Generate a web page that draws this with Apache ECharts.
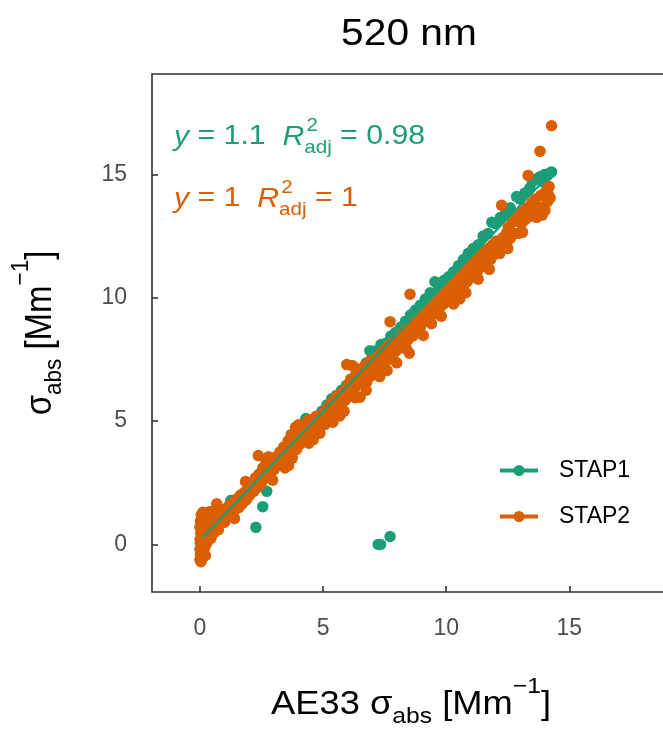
<!DOCTYPE html>
<html><head><meta charset="utf-8">
<script src="https://cdn.jsdelivr.net/npm/echarts@6/dist/echarts.min.js"></script>
<style>html,body{margin:0;padding:0;background:#fff}#c{width:663px;height:731px}</style>
</head><body><div id="c"></div>
<script>
// ---- data ----
const xTicks = [0, 5, 10, 15];
const yTicks = [0, 5, 10, 15];
const seriesNames = ['STAP1', 'STAP2'];
const stap1 = [[0.02,0.05],[0.08,0.25],[0.15,0.45],[0.05,-0.15],[0.25,0.35],[0.40,0.55],[0.55,0.75],[0.75,0.95],[0.95,1.15],[1.15,1.45],[1.25,1.78],[1.45,1.70],[1.65,1.95],[1.85,2.10],[2.05,2.35],[2.27,0.69],[2.55,1.53],[2.71,2.15],[2.25,2.55],[2.45,2.70],[2.65,2.90],[2.85,3.10],[3.05,3.35],[3.25,3.55],[3.45,3.75],[3.65,3.95],[3.85,4.20],[4.05,4.40],[4.25,4.65],[4.30,5.10],[4.55,5.05],[4.75,5.15],[4.95,5.40],[5.15,5.65],[5.35,5.90],[5.55,6.05],[5.75,6.25],[5.95,6.45],[6.15,6.70],[6.35,6.95],[6.55,7.10],[6.75,7.35],[6.90,7.85],[7.00,7.60],[7.24,0.00],[7.33,0.00],[7.72,0.32],[7.15,7.85],[7.35,8.10],[7.55,8.15],[7.75,8.45],[7.95,8.60],[8.15,8.80],[8.35,9.05],[8.55,9.30],[8.75,9.50],[8.95,9.70],[9.15,9.95],[9.35,10.20],[9.54,10.65],[9.70,10.40],[9.90,10.70],[10.10,10.85],[10.30,11.05],[10.50,11.30],[10.70,11.55],[10.90,11.80],[11.10,12.00],[11.30,12.15],[11.50,12.50],[11.70,12.60],[11.85,13.06],[12.00,13.00],[12.20,13.25],[12.40,13.40],[12.60,13.65],[12.86,14.10],[13.00,14.00],[13.20,14.25],[13.40,14.45],[13.50,14.70],[13.65,14.80],[13.80,14.90],[13.90,14.70],[14.00,15.00],[14.10,14.95],[14.20,15.05],[14.28,15.10]];
const stap2 = [[0.00,-0.62],[0.04,-0.70],[0.10,-0.55],[0.02,-0.40],[0.00,-0.20],[0.06,0.00],[0.00,0.20],[0.03,0.45],[0.00,0.70],[0.02,0.95],[0.05,1.20],[0.12,1.30],[0.08,0.85],[0.15,0.55],[0.12,0.15],[0.18,-0.15],[0.22,-0.45],[0.28,0.05],[0.25,0.40],[0.32,0.80],[0.30,1.15],[0.38,1.32],[0.42,0.60],[0.45,0.25],[0.50,0.95],[0.55,1.25],[0.58,0.50],[0.65,0.80],[0.70,1.10],[0.62,1.40],[0.75,0.60],[0.80,1.30],[0.85,0.95],[0.68,1.65],[0.92,1.20],
[1.00,0.90],[1.05,1.45],[1.15,1.10],[1.20,1.60],[1.28,1.25],[1.35,1.70],[1.42,1.40],[1.50,1.85],[1.58,1.50],[1.65,2.00],[1.72,1.65],[1.80,2.10],[1.88,1.80],[1.95,2.35],[1.85,2.55],[1.40,1.05],
[2.02,2.00],[2.10,2.50],[2.18,2.15],[2.25,2.70],[2.32,2.30],[2.37,3.60],[2.40,2.85],[2.48,2.45],[2.55,3.10],[2.60,2.65],[2.68,3.30],[2.72,2.80],[2.80,3.15],[2.88,2.90],[2.95,3.40],[2.78,3.55],[2.95,2.60],
[3.02,3.05],[3.10,3.55],[3.18,3.20],[3.25,3.75],[3.32,3.35],[3.40,3.95],[3.45,3.10],[3.52,3.60],[3.58,4.20],[3.65,3.75],[3.70,4.45],[3.75,3.50],[3.82,4.10],[3.88,4.75],[3.92,3.85],[3.98,4.40],[3.60,3.20],[4.00,4.85],
[4.05,4.05],[4.12,4.65],[4.20,4.30],[4.28,4.85],[4.35,4.50],[4.42,4.10],[4.50,4.75],[4.58,5.05],[4.65,4.55],[4.72,5.20],[4.80,4.85],[4.87,4.51],[4.95,5.10],[4.60,4.25],[4.40,5.05],
[5.02,5.35],[5.08,4.86],[5.15,5.50],[5.22,5.15],[5.30,5.70],[5.38,5.30],[5.45,5.85],[5.52,5.45],[5.60,6.05],[5.68,5.21],[5.75,5.70],[5.82,6.20],[5.90,5.85],[5.96,7.29],[6.00,6.45],[5.40,4.95],[5.85,5.40],
[6.05,6.00],[6.12,6.70],[6.18,7.25],[6.25,7.20],[6.30,6.35],[6.38,6.90],[6.45,6.55],[6.50,5.97],[6.55,7.10],[6.62,6.75],[6.70,7.25],[6.78,6.60],[6.85,7.00],[6.92,7.45],[6.98,6.85],[6.30,5.95],[6.75,6.25],
[7.05,7.30],[7.12,7.00],[7.20,7.60],[7.28,7.15],[7.35,7.75],[7.42,7.35],[7.50,7.90],[7.58,7.45],[7.65,8.05],[7.72,9.03],[7.78,7.60],[7.85,8.20],[7.92,7.80],[7.99,7.36],[7.30,6.80],[7.60,7.05],
[8.05,8.35],[8.12,7.95],[8.20,8.55],[8.28,8.10],[8.35,8.70],[8.39,7.92],[8.45,8.30],[8.53,10.14],[8.58,8.85],[8.65,8.45],[8.72,9.05],[8.80,8.60],[8.88,9.20],[8.95,8.80],[8.50,7.75],
[9.02,9.35],[9.07,8.47],[9.15,9.05],[9.22,9.50],[9.30,9.15],[9.38,9.70],[9.45,9.30],[9.52,9.85],[9.60,9.45],[9.68,10.00],[9.75,9.60],[9.82,10.15],[9.90,9.75],[9.97,10.30],[9.40,8.95],[9.80,9.25],
[10.05,9.90],[10.12,10.45],[10.20,10.05],[10.28,10.60],[10.35,10.20],[10.42,10.75],[10.50,10.35],[10.55,9.95],[10.62,10.90],[10.70,10.50],[10.78,11.05],[10.85,10.65],[10.92,11.20],[10.98,10.80],[10.30,9.75],[10.80,10.20],
[11.05,11.35],[11.12,10.95],[11.20,11.50],[11.28,11.10],[11.35,11.65],[11.42,11.25],[11.50,11.80],[11.58,11.40],[11.64,11.60],[11.72,12.00],[11.80,11.55],[11.88,12.15],[11.95,11.75],[11.30,10.75],[11.75,11.15],
[12.05,12.30],[12.12,11.95],[12.18,11.80],[12.25,13.75],[12.32,12.45],[12.40,12.10],[12.45,12.61],[12.52,12.85],[12.60,12.40],[12.68,13.05],[12.75,12.60],[12.82,13.20],[12.93,12.61],[12.98,13.35],[12.50,12.00],
[13.05,13.00],[13.12,13.50],[13.20,13.15],[13.28,13.65],[13.33,14.96],[13.40,13.30],[13.48,13.85],[13.55,13.45],[13.62,14.00],[13.67,13.26],[13.75,13.70],[13.81,15.94],[13.85,14.15],[13.92,13.60],[14.01,13.54],[14.05,14.30],[14.12,13.90],[14.15,14.17],[14.18,14.51],[14.22,14.05],[14.28,16.97],[13.10,12.65],[13.90,13.35]];
const fit1 = [[0.10, 0.28], [14.28, 15.08]];
const fit2 = [[0.00, 0.08], [14.28, 14.45]];

// ---- styling ----
const C1 = '#1B9E77', C2 = '#D95F02';
const FF = '"Liberation Sans", Arial, sans-serif';
const mctx = document.createElement('canvas').getContext('2d');
function tw(t, size, it) { mctx.font = (it ? 'italic ' : '') + size + 'px ' + FF; return mctx.measureText(t).width; }
function richGroup(parts, o) {
  let cx = 0, pend = 0; const kids = [];
  parts.forEach(p => {
    const s = p.size || o.size;
    const w = tw(p.t, s, p.it);
    kids.push({type: 'text', x: cx + (p.dx || 0), y: (p.dy || 0) * o.size,
      style: {text: p.t, fontSize: s, fontFamily: FF, fontStyle: p.it ? 'italic' : 'normal',
        fill: o.color, align: 'left', verticalAlign: 'middle'}});
    if (p.stack) pend = Math.max(pend, w + (p.dx || 0));
    else { cx += Math.max(w, pend); pend = 0; }
  });
  if (o.center) kids.forEach(k => k.x -= cx / 2);
  return {type: 'group', x: o.x, y: o.y, rotation: o.rotation || 0,
    scaleX: o.sx || 1, scaleY: o.sy || 1, silent: true, children: kids};
}
const SUB = 0.68;
function eqParts(slope, r2, size) {
  return [{t: 'y', it: true}, {t: ' = ' + slope + '  '}, {t: 'R', it: true},
    {t: '2', size: size * SUB, dy: -0.42, dx: 2, stack: true},
    {t: 'adj', size: size * SUB, dy: 0.40}, {t: ' = ' + r2}];
}
function unitParts(prefix, size) {
  return [{t: prefix + 'σ'}, {t: 'abs', size: size * SUB, dy: 0.36}, {t: ' [Mm'},
    {t: '−1', size: size * SUB, dy: -0.55}, {t: ']'}];
}

const chart = echarts.init(document.getElementById('c'), null, {renderer: 'canvas'});
const legendIcon = 'path://M0,5h13.9v4h-13.9z M24.1,5h13.9v4h-13.9z M13.5,7a5.5,5.5 0 1,1 11,0a5.5,5.5 0 1,1 -11,0z';
const tickStyle = {show: true, inside: true, length: 6, lineStyle: {color: '#333', width: 1.6}};
chart.setOption({
  backgroundColor: '#fff',
  animation: false,
  grid: {left: 152, top: 74, width: 517, height: 518, show: true, borderColor: '#333', borderWidth: 1.6,
    containLabel: false, outerBoundsMode: 'none'},
  xAxis: {type: 'value', min: -1.95, max: 19.05,
    axisLine: {show: false, onZero: false}, splitLine: {show: false},
    axisTick: Object.assign({customValues: xTicks}, tickStyle),
    axisLabel: {color: '#4d4d4d', fontSize: 23, fontFamily: FF, margin: 25, customValues: xTicks}},
  yAxis: {type: 'value', min: -1.93, max: 19.07,
    axisLine: {show: false, onZero: false}, splitLine: {show: false},
    axisTick: Object.assign({customValues: yTicks}, tickStyle),
    axisLabel: {color: '#4d4d4d', fontSize: 23, fontFamily: FF, margin: 25, customValues: yTicks}},
  legend: {orient: 'vertical', left: 495, top: 454, itemWidth: 38, itemHeight: 11, itemGap: 23,
    textStyle: {fontSize: 23, fontFamily: FF, color: '#000', padding: [0, 0, 0, 16]},
    data: [{name: seriesNames[0], icon: legendIcon}, {name: seriesNames[1], icon: legendIcon}]},
  series: [
    {name: seriesNames[0], type: 'scatter', data: stap1, symbolSize: 11.5, itemStyle: {color: C1, opacity: 1}, z: 2},
    {name: seriesNames[1], type: 'scatter', data: stap2, symbolSize: 11.5, itemStyle: {color: C2, opacity: 1}, z: 2},
    {name: seriesNames[1], type: 'line', data: fit2, showSymbol: false, symbol: 'none', lineStyle: {color: C2, width: 2.2}, itemStyle: {color: C2}, z: 3},
    {name: seriesNames[0], type: 'line', data: fit1, showSymbol: false, symbol: 'none', lineStyle: {color: C1, width: 2.2}, itemStyle: {color: C1}, z: 3}
  ],
  graphic: [
    richGroup([{t: '520 nm'}], {x: 409, y: 35, size: 37, color: '#000', center: true, sx: 1.1}),
    richGroup(unitParts('AE33 ', 33), {x: 411, y: 705, size: 33, color: '#000', center: true, sx: 1.1}),
    richGroup(unitParts('', 33), {x: 41, y: 333, size: 33, color: '#000', center: true, rotation: Math.PI / 2, sy: 1.1}),
    richGroup(eqParts('1.1', '0.98', 27), {x: 174, y: 137, size: 27, color: C1, sx: 1.12}),
    richGroup(eqParts('1', '1', 27), {x: 174, y: 199, size: 27, color: C2, sx: 1.12})
  ]
});
</script></body></html>
